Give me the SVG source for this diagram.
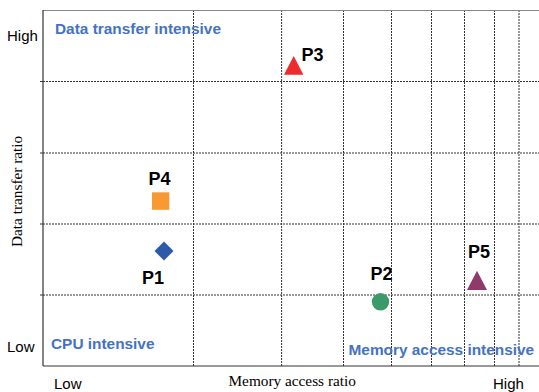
<svg xmlns="http://www.w3.org/2000/svg" width="539" height="392" viewBox="0 0 539 392">
<style>
.grid{stroke:#333;stroke-width:1;stroke-dasharray:2,1;fill:none}
.axis{stroke:#333;stroke-width:1.2;fill:none}
.tick{font-family:"Liberation Sans",Arial,sans-serif;font-size:15px;fill:#000}
.title{font-family:"Liberation Serif","Times New Roman",serif;font-size:15.3px;fill:#000}
.region{font-family:"Liberation Sans",Arial,sans-serif;font-size:15.4px;font-weight:bold;fill:#4472C4}
.plabel{font-family:"Liberation Sans",Arial,sans-serif;font-size:18px;font-weight:bold;fill:#000}
</style>
<rect width="539" height="392" fill="#fff"/>
<g id="grid">
<line class="grid" x1="43" y1="81.5" x2="539" y2="81.5"/>
<line class="grid" x1="43" y1="153" x2="539" y2="153"/>
<line class="grid" x1="43" y1="224" x2="539" y2="224"/>
<line class="grid" x1="43" y1="295" x2="539" y2="295"/>
<line class="grid" x1="193.5" y1="10" x2="193.5" y2="366"/>
<line class="grid" x1="281.6" y1="10" x2="281.6" y2="366"/>
<line class="grid" x1="343.5" y1="10" x2="343.5" y2="366"/>
<line class="grid" x1="391.5" y1="10" x2="391.5" y2="366"/>
<line class="grid" x1="431.5" y1="10" x2="431.5" y2="366"/>
<line class="grid" x1="464.5" y1="10" x2="464.5" y2="366"/>
<line class="grid" x1="494.5" y1="10" x2="494.5" y2="366"/>
<line class="grid" x1="519" y1="10" x2="519" y2="366"/>
</g>
<g id="axes">
<line x1="43" y1="10.5" x2="539" y2="10.5" stroke="#888" stroke-width="1"/>
<line class="axis" x1="43" y1="10" x2="43" y2="366"/>
<line class="axis" x1="43" y1="366" x2="539" y2="366"/>
<line x1="40" y1="81.5" x2="43" y2="81.5" stroke="#333"/>
<line x1="40" y1="153" x2="43" y2="153" stroke="#333"/>
<line x1="40" y1="224" x2="43" y2="224" stroke="#333"/>
<line x1="40" y1="295" x2="43" y2="295" stroke="#333"/>
<text class="tick" x="7" y="41">High</text>
<text class="tick" x="7" y="352">Low</text>
<text class="tick" x="54" y="389">Low</text>
<text class="tick" x="493" y="389">High</text>
<text class="title" x="228.5" y="385.5">Memory access ratio</text>
<text class="title" transform="translate(21.5,247) rotate(-90)">Data transfer ratio</text>
</g>
<g id="regions">
<text class="region" x="55" y="33.5">Data transfer intensive</text>
<text class="region" x="51" y="348.5">CPU intensive</text>
<text class="region" x="348.5" y="355">Memory access intensive</text>
</g>
<g id="P1">
<polygon points="164,241.5 173.5,251 164,260.5 154.5,251" fill="#2D5AA8"/>
<text class="plabel" x="142" y="283.5">P1</text>
</g>
<g id="P2">
<circle cx="380.5" cy="301.8" r="8.7" fill="#3C9A6A"/>
<text class="plabel" x="370.5" y="280">P2</text>
</g>
<g id="P3">
<polygon points="293.7,56 303.4,74.7 284,74.7" fill="#EE2A2E"/>
<text class="plabel" x="301.5" y="60.5">P3</text>
</g>
<g id="P4">
<rect x="152" y="192.3" width="17.3" height="17.5" fill="#F79A34"/>
<text class="plabel" x="148.5" y="185">P4</text>
</g>
<g id="P5">
<polygon points="477,270.7 487,290 467,290" fill="#8E3A6B"/>
<text class="plabel" x="468" y="258.3">P5</text>
</g>
</svg>
